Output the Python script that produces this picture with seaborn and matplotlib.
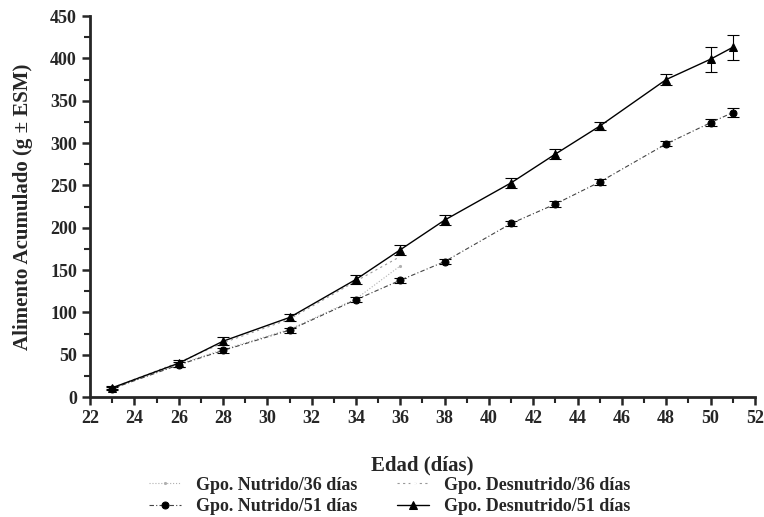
import numpy as np
import pandas as pd
import matplotlib.pyplot as plt
import seaborn as sns

# Data
dias_36 = [23, 26, 28, 31, 34, 36]
nutrido_36 = [10, 39, 56, 80, 116, 155]
desnutrido_36 = [11, 41, 64, 92, 137, 166]

dias_51 = [23, 26, 28, 31, 34, 36, 38, 41, 43, 45, 48, 50, 51]
nutrido_51 = [10, 38, 55, 79, 115, 138, 160, 205, 228, 254, 299, 324, 336]
nutrido_51_err = [2, 3, 3, 3, 3, 3, 3, 3, 3, 3, 3, 4, 5]
desnutrido_51 = [11, 40, 66, 94, 139, 174, 209, 253, 287, 320, 375, 399, 413]
desnutrido_51_err = [2, 4, 5, 4, 5, 6, 6, 6, 6, 5, 6, 15, 15]

labels = ["Gpo. Nutrido/36 días", "Gpo. Nutrido/51 días",
          "Gpo. Desnutrido/36 días", "Gpo. Desnutrido/51 días"]

sns.set_style("ticks")
plt.rcParams["font.family"] = ["Liberation Serif", "DejaVu Serif"]
plt.rcParams["font.weight"] = "bold"

fig = plt.figure(figsize=(7.64, 5.17), dpi=100)
ax = fig.add_axes([0.118, 0.232, 0.870, 0.737])

# 36-day groups (faint)
sns.lineplot(x=dias_36, y=nutrido_36, ax=ax, color="#b0b0b0", lw=0.8,
             linestyle=":", marker=".", markersize=3, mec="#b0b0b0", label=labels[0])
sns.lineplot(x=dias_36, y=desnutrido_36, ax=ax, color="#999999", lw=0.8,
             linestyle=(0, (2, 3)), marker="+", markersize=4, label=labels[2])

# 51-day groups
ax.errorbar(dias_51, nutrido_51, yerr=nutrido_51_err, fmt="none",
            ecolor="black", elinewidth=0.8, capsize=4, capthick=0.8)
ax.errorbar(dias_51, desnutrido_51, yerr=desnutrido_51_err, fmt="none",
            ecolor="black", elinewidth=0.8, capsize=4, capthick=0.8)
sns.lineplot(x=dias_51, y=nutrido_51, ax=ax, color="#444444", lw=0.8,
             linestyle=(0, (4, 2, 1, 2)), marker="o", markersize=5,
             mfc="black", mec="black", label=labels[1])
sns.lineplot(x=dias_51, y=desnutrido_51, ax=ax, color="black", lw=1.0,
             marker="^", markersize=6, mfc="black", mec="black", label=labels[3])

ax.set_xlim(22, 52)
ax.set_ylim(0, 450)
ax.set_xticks(np.arange(22, 53, 2))
ax.set_xticks(np.arange(22, 53, 1), minor=True)
ax.set_yticks(np.arange(0, 451, 50))
ax.set_yticks(np.arange(0, 451, 25), minor=True)
ax.tick_params(axis="both", which="major", length=6, width=1.8, labelsize=13)
ax.tick_params(axis="both", which="minor", length=4, width=1.5)
for lab in ax.get_xticklabels() + ax.get_yticklabels():
    lab.set_fontweight("bold")
for side in ["left", "bottom"]:
    ax.spines[side].set_linewidth(2)
sns.despine(ax=ax)

ax.set_xlabel("Edad (días)", fontsize=15, fontweight="bold", labelpad=20)
ax.set_ylabel("Alimento Acumulado (g ± ESM)", fontsize=15, fontweight="bold", labelpad=12)

handles, labs = ax.get_legend_handles_labels()
order = [labs.index(l) for l in labels]
ax.legend([handles[i] for i in order], [labs[i] for i in order], ncol=2,
          loc="upper center", bbox_to_anchor=(0.45, -0.19), frameon=False,
          handlelength=1.8, columnspacing=2.2, labelspacing=0.25,
          borderaxespad=0, prop={"weight": "bold", "size": 13})

fig.savefig("out.png", dpi=100)
